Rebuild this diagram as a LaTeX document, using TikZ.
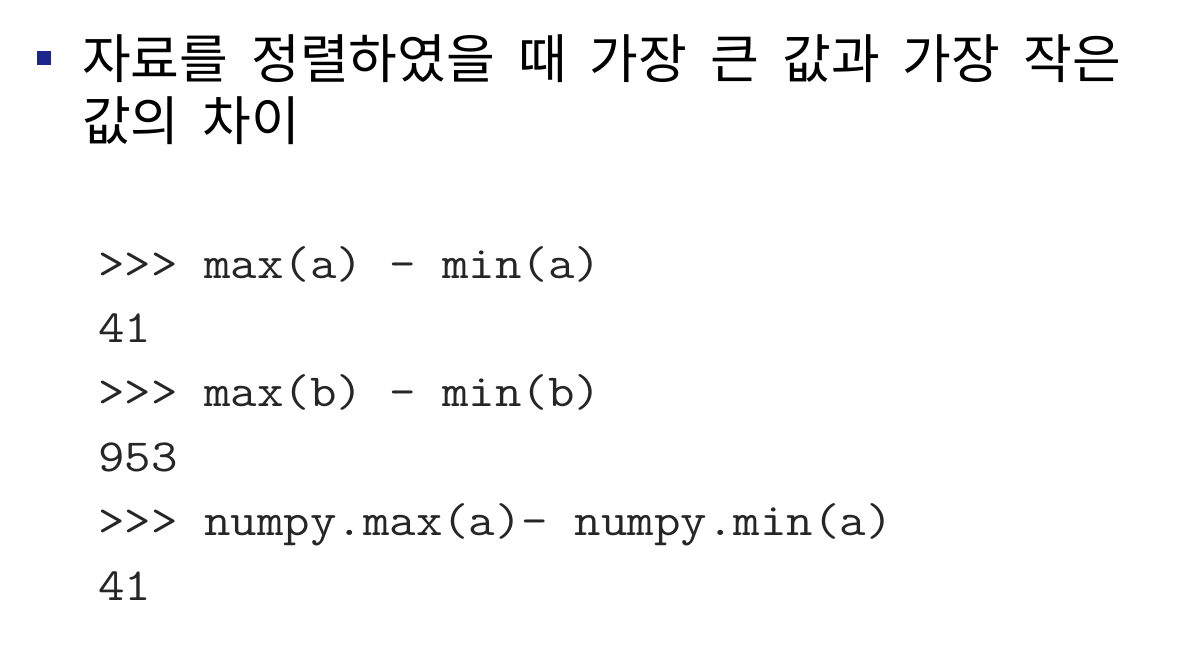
\documentclass[tikz,border=0pt]{standalone}
\usepackage{fontspec}
\newfontfamily\krfont{Noto Sans CJK KR}
\usepackage{tikz}
\definecolor{bulletblue}{RGB}{28,38,140}
\newcommand\titlefont{\krfont\fontsize{53}{61}\selectfont\spaceskip=23pt\relax}
\tikzset{
    titleline/.style={anchor=base west,inner sep=0pt,font=\titlefont},
    codeline/.style={anchor=base west,inner sep=0pt,text=black!85,font=\ttfamily\fontsize{46}{54}\selectfont}
}

\begin{document}
\begin{tikzpicture}[x=1pt,y=-1pt]

	\useasboundingbox[fill=white] (0,0) rectangle (1186,654);

	\fill[bulletblue] (37,51) rectangle (51,65); % bullet

	\node[titleline] (title1) at (82,78) {자료를 정렬하였을 때 가장 큰 값과 가장 작은};
	\node[titleline] (title2) at (82,140) {값의 차이};

	\foreach \txt [count=\i] in {>>> max(a) - min(a), 41, >>> max(b) - min(b), 953, >>> numpy.max(a)- numpy.min(a), 41}{
	  \node[codeline] (code\i) at (98,{278+64.4*(\i-1)}) {\scalebox{1.118}[1]{\txt}};
	}

\end{tikzpicture}
\end{document}
